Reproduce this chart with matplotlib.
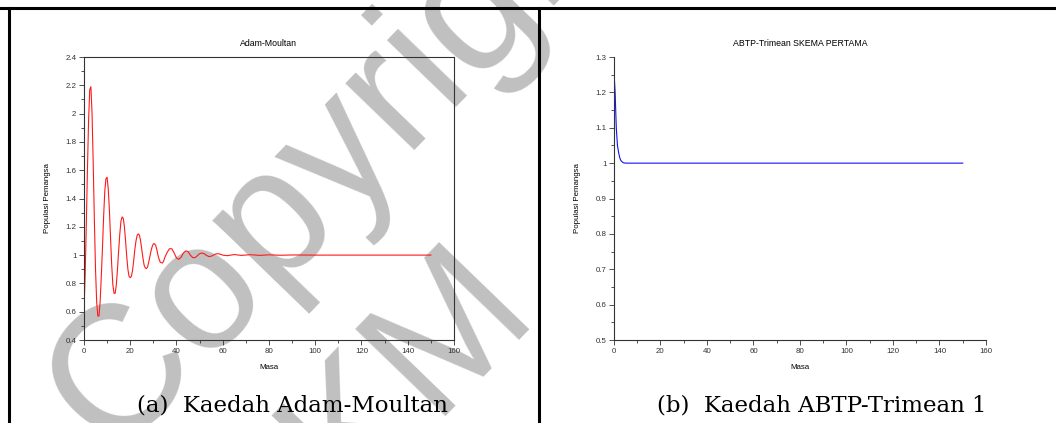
import numpy as np
import matplotlib
matplotlib.use("Agg")
import matplotlib.pyplot as plt
from matplotlib.lines import Line2D

# Adam-Moultan (left panel)
t_am = [0, 0.5, 1, 1.5, 2, 2.5, 3, 3.5, 4, 4.5, 5, 5.5, 6, 6.5, 7, 7.5, 8, 8.5,
        9, 9.5, 10, 10.5, 11, 11.5, 12, 12.5, 13, 13.5, 14, 14.5, 15, 15.5,
        16, 16.5, 17, 17.5, 18, 18.5, 19, 19.5, 20, 20.5, 21, 21.5, 22, 22.5,
        23, 23.5, 24, 24.5, 25, 25.5, 26, 26.5, 27, 27.5, 28, 28.5, 29, 29.5,
        30, 30.5, 31, 31.5, 32, 32.5, 33, 33.5, 34, 34.5, 35,
        36, 37, 38, 39, 40, 41, 42, 43, 44, 45, 46, 47, 48, 49, 50, 51, 52,
        53, 54, 55, 56, 57, 58, 59, 60, 62, 65, 68, 72, 76, 80, 85, 90, 100,
        110, 120, 130, 140, 150]
p_am = [0.6, 0.85, 1.2, 1.6, 1.95, 2.17, 2.19, 2.0, 1.65, 1.25, 0.9, 0.67,
        0.57, 0.57, 0.67, 0.85, 1.05, 1.27, 1.45, 1.54, 1.55, 1.47, 1.32, 1.12,
        0.93, 0.79, 0.73, 0.73, 0.79, 0.9, 1.03, 1.15, 1.24, 1.27, 1.26, 1.2,
        1.1, 0.99, 0.9, 0.85, 0.84, 0.85, 0.89, 0.96, 1.04, 1.1, 1.14, 1.15,
        1.14, 1.1, 1.04, 0.98, 0.93, 0.91, 0.905, 0.915, 0.95, 0.99, 1.03,
        1.06, 1.08, 1.08, 1.07, 1.04, 1.0, 0.97, 0.95, 0.945, 0.945, 0.96,
        0.985,
        1.02, 1.045, 1.045, 1.015, 0.98, 0.97, 0.985, 1.015, 1.03, 1.025, 1.0,
        0.983, 0.982, 0.995, 1.01, 1.015, 1.01, 0.998, 0.99, 0.992, 1.0, 1.008,
        1.01, 1.006, 1.0, 0.996, 1.004, 0.998, 1.003, 0.998, 1.002, 0.999,
        1.001, 1.0, 1.0, 1.0, 1.0, 1.0, 1.0]

# ABTP-Trimean skema pertama (right panel)
t_ab = [0, 0, 0.5, 1, 1.5, 2, 2.5, 3, 4, 5, 150]
p_ab = [0.45, 1.26, 1.2, 1.1, 1.05, 1.03, 1.015, 1.007, 1.001, 1.0, 1.0]

font = "Liberation Sans"
fs = 5.7

fig = plt.figure(figsize=(10.56, 4.23), dpi=100)

def style(ax):
    ax.patch.set_alpha(0)
    ax.tick_params(which="both", direction="out", labelsize=fs, width=0.6,
                   colors="#333333", pad=2)
    ax.tick_params(which="major", length=3.5)
    ax.tick_params(which="minor", length=2)
    for lab in ax.get_xticklabels() + ax.get_yticklabels():
        lab.set_fontfamily(font)
    for s in ax.spines.values():
        s.set_linewidth(0.8)
        s.set_color("#333333")

ax1 = fig.add_axes([0.0795, 0.1962, 0.3504, 0.669])
ax1.plot(t_am, p_am, color="#ff1a1a", lw=0.8)
ax1.set_xlim(0, 160)
ax1.set_ylim(0.4, 2.4)
ax1.set_xticks(np.arange(0, 161, 20))
ax1.set_xticks(np.arange(0, 161, 10), minor=True)
ax1.set_yticks(np.arange(0.4, 2.41, 0.2))
ax1.set_yticks(np.arange(0.4, 2.41, 0.1), minor=True)
ax1.set_yticklabels(["0.4", "0.6", "0.8", "1", "1.2", "1.4", "1.6", "1.8", "2", "2.2", "2.4"])
ax1.set_title("Adam-Moultan", fontsize=6.3, family=font, pad=8)
ax1.set_xlabel("Masa", fontsize=fs, family=font, labelpad=7)
ax1.set_ylabel("Populasi Pemangsa", fontsize=fs, family=font, labelpad=10)
style(ax1)

ax2 = fig.add_axes([0.5814, 0.1962, 0.3523, 0.669])
ax2.plot(t_ab, p_ab, color="#1010ff", lw=0.8)
ax2.set_xlim(0, 160)
ax2.set_ylim(0.5, 1.3)
ax2.set_xticks(np.arange(0, 161, 20))
ax2.set_xticks(np.arange(0, 161, 10), minor=True)
ax2.set_yticks(np.arange(0.5, 1.31, 0.1))
ax2.set_yticks(np.arange(0.5, 1.31, 0.05), minor=True)
ax2.set_yticklabels(["0.5", "0.6", "0.7", "0.8", "0.9", "1", "1.1", "1.2", "1.3"])
ax2.set_title("ABTP-Trimean SKEMA PERTAMA", fontsize=6.3, family=font, pad=8)
ax2.set_xlabel("Masa", fontsize=fs, family=font, labelpad=7)
ax2.set_ylabel("Populasi Pemangsa", fontsize=fs, family=font, labelpad=10)
ax2.spines["top"].set_visible(False)
ax2.spines["right"].set_visible(False)
style(ax2)

# captions
fig.text(292 / 1056, 1 - 405 / 423, "(a)  Kaedah Adam-Moultan", fontsize=16.5,
         family="DejaVu Serif", ha="center", va="center")
fig.text(822 / 1056, 1 - 405 / 423, "(b)  Kaedah ABTP-Trimean 1", fontsize=16.5,
         family="DejaVu Serif", ha="center", va="center")

# table borders
lw = 2.2
fig.add_artist(Line2D([0, 1], [1 - 8.5 / 423] * 2, color="black", lw=lw))
fig.add_artist(Line2D([9 / 1056] * 2, [0, 1 - 8.5 / 423], color="black", lw=lw))
fig.add_artist(Line2D([538.5 / 1056] * 2, [0, 1 - 8.5 / 423], color="black", lw=lw))

# watermark (behind the plots)
wm = dict(fontsize=130, rotation=46, color="#c0c0c0", ha="left", va="baseline",
          family="Liberation Sans", rotation_mode="anchor", zorder=-5)
fig.text(112 / 1056, 1 - 455 / 423, "Copyright", **wm)
fig.text(258 / 1056, 1 - 597 / 423, "UKM", **wm)

fig.savefig("out.png", dpi=100)
